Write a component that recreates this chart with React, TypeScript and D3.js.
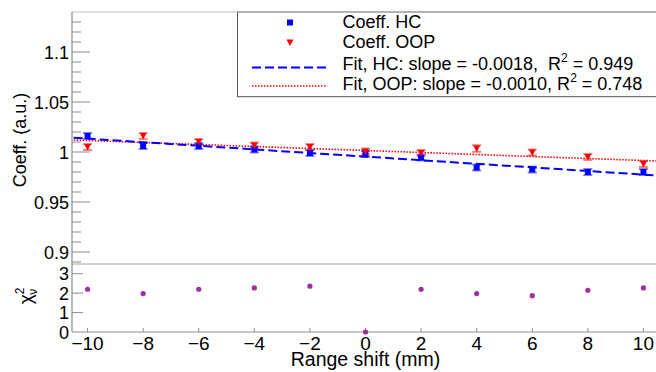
import React, { useRef, useEffect } from 'react';
import * as d3 from 'd3';

// range shift values (mm)
const shifts = [-10, -8, -6, -4, -2, 0, 2, 4, 6, 8, 10];
// coefficient values
const hcValues = [1.016, 1.006, 1.006, 1.0025, 0.999, 0.998, 0.9945, 0.9845, 0.9825, 0.980, 0.980];
const hcErrors = [0.003, 0.003, 0.003, 0.003, 0.003, 0.003, 0.003, 0.003, 0.003, 0.003, 0.003];
const oopValues = [1.005, 1.016, 1.010, 1.0065, 1.005, 1.0005, 0.999, 1.0035, 0.9995, 0.995, 0.988];
const oopErrors = [0.003, 0.003, 0.003, 0.003, 0.003, 0.003, 0.003, 0.0033, 0.003, 0.003, 0.003];
// reduced chi2 per point
const chi2Values = [2.2, 1.98, 2.2, 2.27, 2.36, 0, 2.2, 1.98, 1.87, 2.15, 2.27];
// linear fit parameters
const hcFit = { intercept: 0.9954, slope: -0.0018 };
const oopFit = { intercept: 1.0015, slope: -0.0010 };

const xTicks = [-10, -8, -6, -4, -2, 0, 2, 4, 6, 8, 10];
const yTopMajor = [0.9, 0.95, 1, 1.05, 1.1];
const yBottomTicks = [0, 1, 2, 3];

const W = 656;
const H = 372;
const FONT = 'Liberation Sans, Arial, sans-serif';

const App: React.FC = () => {
  const svgRef = useRef<SVGSVGElement | null>(null);

  useEffect(() => {
    const svg = d3.select(svgRef.current);
    svg.selectAll('*').remove();

    const left = 72;
    const right = 659;
    const top = 12;
    const mid = 264;
    const bottom = 332;

    const x = d3.scaleLinear().domain([-10.56, 10.56]).range([left, right]);
    const yTop = d3.scaleLinear().domain([0.888, 1.14]).range([mid, top]);
    const yBot = d3.scaleLinear().domain([0, 3.5]).range([bottom, mid]);

    const axisColor = '#8c8c8c';
    const frameColor = '#c4c4c4';

    svg.append('clipPath').attr('id', 'topclip')
      .append('rect').attr('x', left).attr('y', top).attr('width', right - left).attr('height', mid - top);

    // frame lines
    svg.append('line').attr('x1', left).attr('x2', W).attr('y1', top).attr('y2', top)
      .attr('stroke', frameColor).attr('stroke-width', 1.2);
    svg.append('line').attr('x1', left).attr('x2', W).attr('y1', mid).attr('y2', mid)
      .attr('stroke', frameColor).attr('stroke-width', 1.5);
    svg.append('line').attr('x1', left).attr('x2', left).attr('y1', top).attr('y2', bottom)
      .attr('stroke', axisColor).attr('stroke-width', 1.2);
    svg.append('line').attr('x1', left).attr('x2', W).attr('y1', bottom).attr('y2', bottom)
      .attr('stroke', axisColor).attr('stroke-width', 1.2);

    // top y ticks: major + minor every 0.01
    const minor = d3.range(0.89, 1.135, 0.01).map(v => Math.round(v * 100) / 100);
    svg.append('g').selectAll('line').data(minor).join('line')
      .attr('x1', left).attr('x2', d => (yTopMajor.some(m => Math.abs(m - d) < 1e-6) ? left + 18 : left + 9))
      .attr('y1', d => yTop(d)).attr('y2', d => yTop(d))
      .attr('stroke', axisColor).attr('stroke-width', 1);

    svg.append('g').selectAll('text').data(yTopMajor).join('text')
      .attr('x', 69).attr('y', d => yTop(d) + 6.5)
      .attr('text-anchor', 'end').attr('font-size', 18).attr('font-family', FONT)
      .text(d => d3.format('~g')(d));

    // bottom y ticks
    svg.append('g').selectAll('line').data(yBottomTicks.slice(1)).join('line')
      .attr('x1', left).attr('x2', left + 11)
      .attr('y1', d => yBot(d)).attr('y2', d => yBot(d))
      .attr('stroke', axisColor).attr('stroke-width', 1);
    svg.append('g').selectAll('text').data(yBottomTicks).join('text')
      .attr('x', 69).attr('y', d => yBot(d) + 6.5)
      .attr('text-anchor', 'end').attr('font-size', 18).attr('font-family', FONT)
      .text(d => String(d));

    // x ticks
    svg.append('g').selectAll('line').data(xTicks).join('line')
      .attr('x1', d => x(d)).attr('x2', d => x(d))
      .attr('y1', bottom).attr('y2', bottom - 4)
      .attr('stroke', axisColor).attr('stroke-width', 1);
    svg.append('g').selectAll('text').data(xTicks).join('text')
      .attr('x', d => x(d)).attr('y', 349.5)
      .attr('text-anchor', 'middle').attr('font-size', 19).attr('font-family', FONT)
      .text(d => (d < 0 ? '\u2212' + Math.abs(d) : String(d)));

    // axis titles
    svg.append('text')
      .attr('x', (left + right) / 2).attr('y', 365.5)
      .attr('text-anchor', 'middle').attr('font-size', 19.5).attr('font-family', FONT)
      .text('Range shift (mm)');
    svg.append('text')
      .attr('transform', `translate(26,${(top + mid) / 2 + 2}) rotate(-90)`)
      .attr('text-anchor', 'middle').attr('font-size', 18).attr('font-family', FONT)
      .text('Coeff. (a.u.)');
    const chiLabel = svg.append('text')
      .attr('transform', `translate(32,${(mid + bottom) / 2 - 2}) rotate(-90)`)
      .attr('text-anchor', 'middle').attr('font-size', 19).attr('font-family', FONT);
    chiLabel.append('tspan').text('\u03c7');
    chiLabel.append('tspan').attr('font-size', 12).attr('dy', -8).text('2');
    chiLabel.append('tspan').attr('font-size', 12).attr('dx', -7).attr('dy', 13).text('\u03bd');

    const plot = svg.append('g').attr('clip-path', 'url(#topclip)');

    // fit lines
    const fitLine = (p: { intercept: number; slope: number }) =>
      d3.line<number>().x(d => x(d)).y(d => yTop(p.intercept + p.slope * d))([-10.5, 10.56]);
    plot.append('path').attr('d', fitLine(oopFit)!)
      .attr('fill', 'none').attr('stroke', '#ff0000').attr('stroke-width', 1.6)
      .attr('stroke-dasharray', '1.5,1.5');
    plot.append('path').attr('d', fitLine(hcFit)!)
      .attr('fill', 'none').attr('stroke', '#0000ff').attr('stroke-width', 2)
      .attr('stroke-dasharray', '9,4');

    // error bars
    const drawErrors = (vals: number[], errs: number[], color: string) => {
      const g = plot.append('g').attr('stroke', color).attr('stroke-width', 1.8).attr('opacity', 0.55);
      shifts.forEach((s, i) => {
        const cx = x(s);
        const y1 = yTop(vals[i] - errs[i]);
        const y2 = yTop(vals[i] + errs[i]);
        g.append('line').attr('x1', cx).attr('x2', cx).attr('y1', y1).attr('y2', y2);
        g.append('line').attr('x1', cx - 4.5).attr('x2', cx + 4.5).attr('y1', y1).attr('y2', y1);
        g.append('line').attr('x1', cx - 4.5).attr('x2', cx + 4.5).attr('y1', y2).attr('y2', y2);
      });
    };
    drawErrors(hcValues, hcErrors, '#0000ff');
    drawErrors(oopValues, oopErrors, '#ff0000');

    const square = d3.symbol().type(d3.symbolSquare).size(36);
    const triDown = (cx: number, cy: number) =>
      `M${cx - 3.5},${cy - 3}L${cx + 3.5},${cy - 3}L${cx},${cy + 3.5}Z`;

    plot.append('g').selectAll('path').data(shifts).join('path')
      .attr('transform', (d, i) => `translate(${x(d)},${yTop(hcValues[i])})`)
      .attr('d', square()!).attr('fill', '#0000ff');
    plot.append('g').selectAll('path').data(shifts).join('path')
      .attr('d', (d, i) => triDown(x(d), yTop(oopValues[i])))
      .attr('fill', '#ff0000');

    // chi2 points
    svg.append('g').selectAll('circle').data(shifts).join('circle')
      .attr('cx', d => x(d)).attr('cy', (d, i) => yBot(chi2Values[i]))
      .attr('r', 2.6).attr('fill', '#a02ea0');

    // legend
    const lg = svg.append('g');
    lg.append('rect').attr('x', 237.5).attr('y', top).attr('width', W).attr('height', 96.7 - top)
      .attr('fill', 'white').attr('stroke', '#555').attr('stroke-width', 1);
    lg.append('line').attr('x1', 237.5).attr('x2', W).attr('y1', top).attr('y2', top)
      .attr('stroke', frameColor).attr('stroke-width', 1.2);
    lg.append('path').attr('transform', 'translate(290,22.5)').attr('d', square()!).attr('fill', '#0000ff');
    lg.append('path').attr('d', triDown(290, 42.5)).attr('fill', '#ff0000');
    lg.append('line').attr('x1', 252).attr('x2', 327).attr('y1', 67.5).attr('y2', 67.5)
      .attr('stroke', '#0000ff').attr('stroke-width', 2).attr('stroke-dasharray', '9,4');
    lg.append('line').attr('x1', 252).attr('x2', 327).attr('y1', 86).attr('y2', 86)
      .attr('stroke', '#ff0000').attr('stroke-width', 1.6).attr('stroke-dasharray', '1.5,1.5');

    const entry = (y: number, main: string, slope?: string, r2?: string) => {
      const t = lg.append('text').attr('x', 342.5).attr('y', y)
        .attr('font-size', 18).attr('font-family', FONT).attr('xml:space', 'preserve');
      t.append('tspan').text(main);
      if (slope !== undefined) {
        t.append('tspan').text(`slope = ${slope}, ${r2 === '0.949' ? ' ' : ''}R`);
        t.append('tspan').attr('font-size', 12).attr('dy', -8).text('2');
        t.append('tspan').attr('dy', 8).text(` = ${r2}`);
      }
    };
    entry(27.5, 'Coeff. HC');
    entry(48, 'Coeff. OOP');
    entry(69.5, 'Fit, HC: ', '-0.0018', '0.949');
    entry(89.5, 'Fit, OOP: ', '-0.0010', '0.748');
  }, []);

  return (
    <svg
      ref={svgRef}
      width={W}
      height={H}
      style={{ position: 'absolute', left: 0, top: 0, background: 'white' }}
    />
  );
};

export default App;
